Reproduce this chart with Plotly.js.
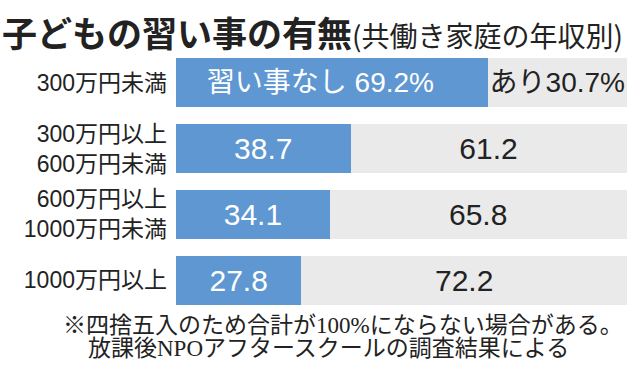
<!DOCTYPE html>
<html><head><meta charset="utf-8">
<script src="https://cdn.plot.ly/plotly-3.0.1.min.js"></script>
<style>html,body{margin:0;padding:0;background:#fff;}#c{width:640px;height:376px;}</style>
</head><body><div id="c"></div>
<script>
const categories = ['300万円未満', '300万円以上<br>600万円未満', '600万円以上<br>1000万円未満', '1000万円以上'];
const nashi = [69.2, 38.7, 34.1, 27.8];
const ari = [30.7, 61.2, 65.8, 72.2];
const nashiText = ['習い事なし 69.2%\u00a0\u00a0\u00a0', '38.7', '34.1', '27.8'];
const ariText = ['あり30.7%', '61.2', '65.8', '72.2'];

const F = 'Liberation Sans, Noto Sans CJK JP, sans-serif';
const traces = [
  {type:'bar', orientation:'h', y:categories, x:nashi, name:'なし',
   marker:{color:'#5e97d1'}, width:0.745,
   text:nashiText, textposition:'inside', insidetextanchor:'middle', constraintext:'none',
   textfont:{color:'#ffffff', family:F, size:[28,30,30,30]}, hoverinfo:'none', cliponaxis:false},
  {type:'bar', orientation:'h', y:categories, x:ari, name:'あり',
   marker:{color:'#ebeaea'}, width:0.745,
   text:ariText, textposition:'inside', insidetextanchor:'middle', constraintext:'none',
   textfont:{color:'#222222', family:F, size:[28,30,30,30]}, hoverinfo:'none', cliponaxis:false}
];
const layout = {
  width:640, height:376, barmode:'stack', showlegend:false,
  paper_bgcolor:'#fff', plot_bgcolor:'#fff',
  margin:{l:176, r:13, t:50, b:63},
  xaxis:{range:[0,100], visible:false, fixedrange:true},
  yaxis:{autorange:'reversed', showgrid:false, zeroline:false, showline:false, ticks:'',
         ticklabelstandoff:8,
         tickfont:{family:F, size:23, color:'#222'}},
  annotations:[
    {xref:'paper', yref:'paper', x:-176/451, y:1+ (50-31)/263.4, xanchor:'left', yanchor:'middle', showarrow:false,
     text:'<b>子どもの習い事の有無</b><span style="font-size:28px">(共働き家庭の年収別)</span>',
     font:{family:'Noto Sans CJK JP, sans-serif', size:35, color:'#222'}},
    {xref:'paper', yref:'paper', x:(61-176)/451, y:-(325.5-313.4)/263.4, xanchor:'left', yanchor:'middle', showarrow:false,
     text:'※四捨五入のため合計が100%にならない場合がある。',
     font:{family:'Liberation Serif, Noto Sans CJK JP, serif', size:23, color:'#222'}},
    {xref:'paper', yref:'paper', x:(86-176)/451, y:-(349-313.4)/263.4, xanchor:'left', yanchor:'middle', showarrow:false,
     text:'放課後NPOアフタースクールの調査結果による',
     font:{family:'Liberation Serif, Noto Sans CJK JP, serif', size:23, color:'#222'}}
  ]
};
Plotly.newPlot('c', traces, layout, {staticPlot:true, displayModeBar:false});
</script></body></html>
